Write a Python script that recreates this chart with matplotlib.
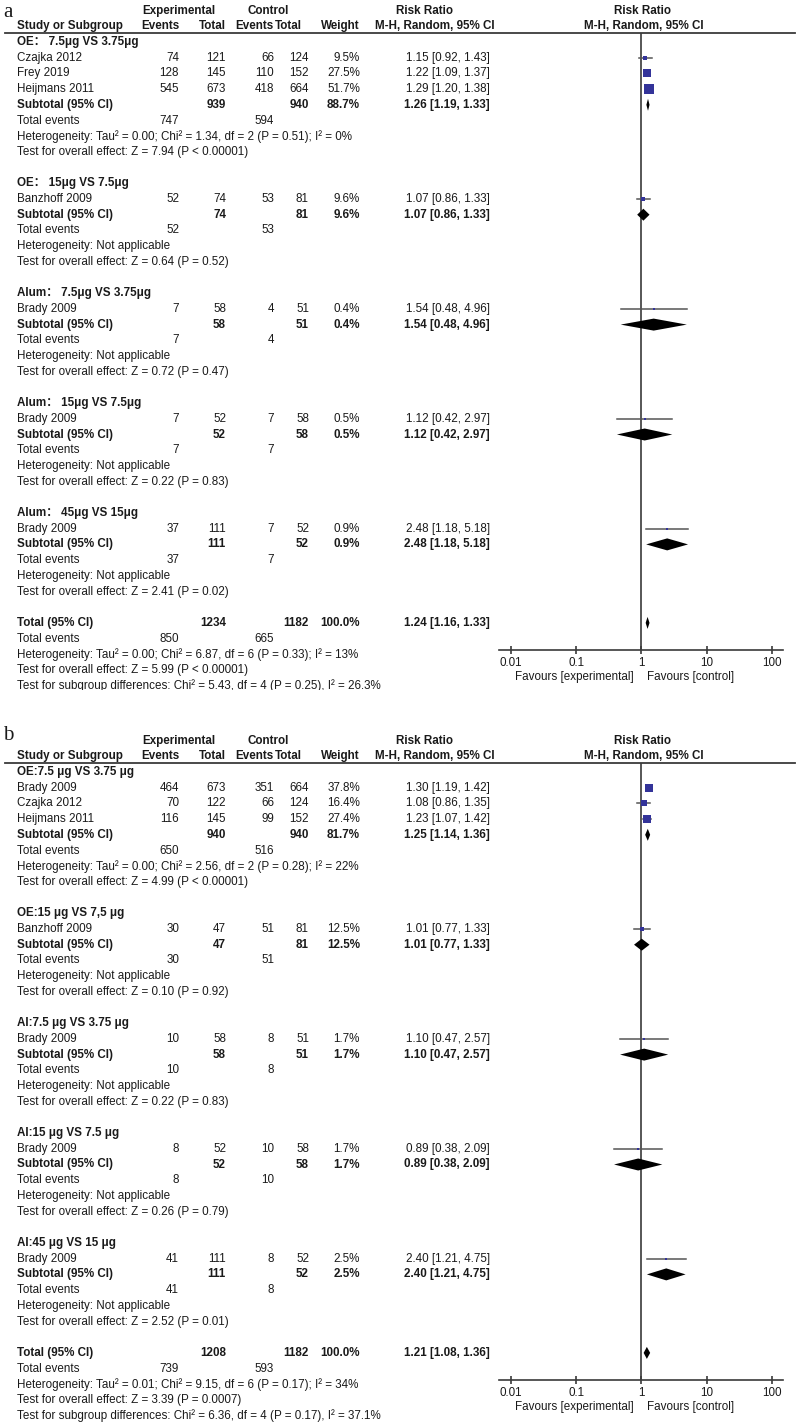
import numpy as np
import matplotlib
matplotlib.use("Agg")
import matplotlib.pyplot as plt
from matplotlib.patches import Rectangle
from matplotlib.ticker import NullLocator

plt.rcParams['font.family'] = ['Liberation Sans', 'Noto Sans CJK SC', 'DejaVu Sans']

# ---------------- panel a ----------------
a_titles = ["OE： 7.5μg VS 3.75μg", "OE： 15μg VS 7.5μg", "Alum： 7.5μg VS 3.75μg",
            "Alum： 15μg VS 7.5μg", "Alum： 45μg VS 15μg"]
a_studies = [["Czajka 2012", "Frey 2019", "Heijmans 2011"], ["Banzhoff 2009"],
             ["Brady 2009"], ["Brady 2009"], ["Brady 2009"]]
a_exp_ev = [[74, 128, 545], [52], [7], [7], [37]]
a_exp_n = [[121, 145, 673], [74], [58], [52], [111]]
a_ctl_ev = [[66, 110, 418], [53], [4], [7], [7]]
a_ctl_n = [[124, 152, 664], [81], [51], [58], [52]]
a_weight = [[9.5, 27.5, 51.7], [9.6], [0.4], [0.5], [0.9]]
a_rr = [[1.15, 1.22, 1.29], [1.07], [1.54], [1.12], [2.48]]
a_lo = [[0.92, 1.09, 1.20], [0.86], [0.48], [0.42], [1.18]]
a_hi = [[1.43, 1.37, 1.38], [1.33], [4.96], [2.97], [5.18]]
a_sub_w = [88.7, 9.6, 0.4, 0.5, 0.9]
a_sub_rr = [1.26, 1.07, 1.54, 1.12, 2.48]
a_sub_lo = [1.19, 0.86, 0.48, 0.42, 1.18]
a_sub_hi = [1.33, 1.33, 4.96, 2.97, 5.18]
a_het = ["Tau² = 0.00; Chi² = 1.34, df = 2 (P = 0.51); I² = 0%",
         "Not applicable", "Not applicable", "Not applicable", "Not applicable"]
a_z = ["Z = 7.94 (P < 0.00001)", "Z = 0.64 (P = 0.52)", "Z = 0.72 (P = 0.47)",
       "Z = 0.22 (P = 0.83)", "Z = 2.41 (P = 0.02)"]
a_total = [1.24, 1.16, 1.33]
a_total_het = "Tau² = 0.00; Chi² = 6.87, df = 6 (P = 0.33); I² = 13%"
a_total_z = "Z = 5.99 (P < 0.00001)"
a_subdiff = "Chi² = 5.43, df = 4 (P = 0.25), I² = 26.3%"

# ---------------- panel b ----------------
b_titles = ["OE:7.5 μg VS 3.75 μg", "OE:15 μg VS 7,5 μg", "Al:7.5 μg VS 3.75 μg",
            "Al:15 μg VS 7.5 μg", "Al:45 μg VS 15 μg"]
b_studies = [["Brady 2009", "Czajka 2012", "Heijmans 2011"], ["Banzhoff 2009"],
             ["Brady 2009"], ["Brady 2009"], ["Brady 2009"]]
b_exp_ev = [[464, 70, 116], [30], [10], [8], [41]]
b_exp_n = [[673, 122, 145], [47], [58], [52], [111]]
b_ctl_ev = [[351, 66, 99], [51], [8], [10], [8]]
b_ctl_n = [[664, 124, 152], [81], [51], [58], [52]]
b_weight = [[37.8, 16.4, 27.4], [12.5], [1.7], [1.7], [2.5]]
b_rr = [[1.30, 1.08, 1.23], [1.01], [1.10], [0.89], [2.40]]
b_lo = [[1.19, 0.86, 1.07], [0.77], [0.47], [0.38], [1.21]]
b_hi = [[1.42, 1.35, 1.42], [1.33], [2.57], [2.09], [4.75]]
b_sub_w = [81.7, 12.5, 1.7, 1.7, 2.5]
b_sub_rr = [1.25, 1.01, 1.10, 0.89, 2.40]
b_sub_lo = [1.14, 0.77, 0.47, 0.38, 1.21]
b_sub_hi = [1.36, 1.33, 2.57, 2.09, 4.75]
b_het = ["Tau² = 0.00; Chi² = 2.56, df = 2 (P = 0.28); I² = 22%",
         "Not applicable", "Not applicable", "Not applicable", "Not applicable"]
b_z = ["Z = 4.99 (P < 0.00001)", "Z = 0.10 (P = 0.92)", "Z = 0.22 (P = 0.83)",
       "Z = 0.26 (P = 0.79)", "Z = 2.52 (P = 0.01)"]
b_total = [1.21, 1.08, 1.36]
b_total_het = "Tau² = 0.01; Chi² = 9.15, df = 6 (P = 0.17); I² = 34%"
b_total_z = "Z = 3.39 (P = 0.0007)"
b_subdiff = "Chi² = 6.36, df = 4 (P = 0.17), I² = 37.1%"

ticks = [0.01, 0.1, 1, 10, 100]
tick_labels = ["0.01", "0.1", "1", "10", "100"]

W, H = 800, 1425
fig = plt.figure(figsize=(W / 100, H / 100), dpi=100)
bg = fig.add_axes([0, 0, 1, 1])
bg.set_xlim(0, W)
bg.set_ylim(H, 0)
bg.axis('off')

FS = 8.4
TXT = '#1a1a1a'
LINE = '#3a3a3a'
BLUE = '#333399'
PITCH, TOP = 15.7, 42
PLOT_L, PLOT_R = 499, 783
AX_Y = 650
HDR_Y = 32.5


def txt(x, y, s, ha='left', bold=False):
    bg.text(x, y, s, ha=ha, va='center', fontsize=FS, color=TXT,
            fontweight='bold' if bold else 'normal')


def ci(r, l, h):
    return f"{r:.2f} [{l:.2f}, {h:.2f}]"


def diamond(ax, y, r, l, h):
    ax.fill([l, r, h, r], [y, y - 6, y, y + 6], color='black', lw=0, zorder=4)


def panel(off, letter, letter_y, d):
    bg.text(3, off + letter_y, letter, ha='left', va='baseline', fontsize=15,
            family='Liberation Serif', color=TXT)
    # header
    txt(179, off + 11, "Experimental", 'center', True)
    txt(268, off + 11, "Control", 'center', True)
    txt(425, off + 11, "Risk Ratio", 'center', True)
    txt(642, off + 11, "Risk Ratio", 'center', True)
    txt(17, off + 26, "Study or Subgroup", bold=True)
    txt(180, off + 26, "Events", 'right', True)
    txt(226, off + 26, "Total", 'right', True)
    txt(274, off + 26, "Events", 'right', True)
    txt(302, off + 26, "Total", 'right', True)
    txt(360, off + 26, "Weight", 'right', True)
    txt(435, off + 26, "M-H, Random, 95% CI", 'center', True)
    txt(644, off + 26, "M-H, Random, 95% CI", 'center', True)
    bg.plot([5, 795], [off + HDR_Y, off + HDR_Y], color=LINE, lw=1.3)

    ax = fig.add_axes([PLOT_L / W, 1 - (off + AX_Y) / H, (PLOT_R - PLOT_L) / W,
                       (AX_Y - HDR_Y) / H])
    ax.set_facecolor('none')
    ax.set_xscale('log')
    ax.set_xlim(10 ** -2.184, 10 ** 2.17)
    ax.set_ylim(off + AX_Y, off + HDR_Y)
    for s in ['top', 'left', 'right']:
        ax.spines[s].set_visible(False)
    ax.spines['bottom'].set_color(LINE)
    ax.spines['bottom'].set_linewidth(1.2)
    ax.set_xticks(ticks)
    ax.set_xticklabels(tick_labels)
    ax.xaxis.set_minor_locator(NullLocator())
    ax.set_yticks([])
    ax.tick_params(axis='x', direction='inout', length=6, width=1.2, color=LINE,
                   labelsize=FS, labelcolor=TXT, pad=2)
    ax.axvline(1, color=LINE, lw=1.2, zorder=1)

    def ypos(i):
        return off + TOP + PITCH * i

    line = 0
    for g in range(len(d['titles'])):
        txt(17, ypos(line), d['titles'][g], bold=True)
        k = len(d['studies'][g])
        for j in range(k):
            y = ypos(line + 1 + j)
            txt(17, y, d['studies'][g][j])
            txt(179, y, str(d['exp_ev'][g][j]), 'right')
            txt(226, y, str(d['exp_n'][g][j]), 'right')
            txt(274, y, str(d['ctl_ev'][g][j]), 'right')
            txt(309, y, str(d['ctl_n'][g][j]), 'right')
            txt(360, y, f"{d['weight'][g][j]:.1f}%", 'right')
            txt(490, y, ci(d['rr'][g][j], d['lo'][g][j], d['hi'][g][j]), 'right')
            ax.plot([d['lo'][g][j], d['hi'][g][j]], [y, y], color='#555555', lw=1.1, zorder=2)
            side = max(1.39 * np.sqrt(d['weight'][g][j]), 2.0)
            ax.plot(d['rr'][g][j], y, 's', ms=side * 0.72, color=BLUE, mew=0, zorder=3)
        y = ypos(line + k + 1)
        txt(17, y, "Subtotal (95% CI)", bold=True)
        txt(226, y, str(sum(d['exp_n'][g])), 'right', True)
        txt(309, y, str(sum(d['ctl_n'][g])), 'right', True)
        txt(360, y, f"{d['sub_w'][g]:.1f}%", 'right', True)
        txt(490, y, ci(d['sub_rr'][g], d['sub_lo'][g], d['sub_hi'][g]), 'right', True)
        diamond(ax, y, d['sub_rr'][g], d['sub_lo'][g], d['sub_hi'][g])
        y = ypos(line + k + 2)
        txt(17, y, "Total events")
        txt(179, y, str(sum(d['exp_ev'][g])), 'right')
        txt(274, y, str(sum(d['ctl_ev'][g])), 'right')
        txt(17, ypos(line + k + 3), "Heterogeneity: " + d['het'][g])
        txt(17, ypos(line + k + 4), "Test for overall effect: " + d['z'][g])
        line += k + 6

    y = ypos(line)
    txt(17, y, "Total (95% CI)", bold=True)
    txt(226, y, str(sum(sum(v) for v in d['exp_n'])), 'right', True)
    txt(309, y, str(sum(sum(v) for v in d['ctl_n'])), 'right', True)
    txt(360, y, "100.0%", 'right', True)
    txt(490, y, ci(*d['total']), 'right', True)
    diamond(ax, y, *d['total'])
    y = ypos(line + 1)
    txt(17, y, "Total events")
    txt(179, y, str(sum(sum(v) for v in d['exp_ev'])), 'right')
    txt(274, y, str(sum(sum(v) for v in d['ctl_ev'])), 'right')
    txt(17, ypos(line + 2), "Heterogeneity: " + d['total_het'])
    txt(17, ypos(line + 3), "Test for overall effect: " + d['total_z'])
    txt(17, ypos(line + 4), "Test for subgroup differences: " + d['subdiff'])

    txt(574, off + 677, "Favours [experimental]", 'center')
    txt(691, off + 677, "Favours [control]", 'center')


panel_a = dict(titles=a_titles, studies=a_studies, exp_ev=a_exp_ev, exp_n=a_exp_n,
               ctl_ev=a_ctl_ev, ctl_n=a_ctl_n, weight=a_weight, rr=a_rr, lo=a_lo, hi=a_hi,
               sub_w=a_sub_w, sub_rr=a_sub_rr, sub_lo=a_sub_lo, sub_hi=a_sub_hi,
               het=a_het, z=a_z, total=a_total, total_het=a_total_het,
               total_z=a_total_z, subdiff=a_subdiff)
panel_b = dict(titles=b_titles, studies=b_studies, exp_ev=b_exp_ev, exp_n=b_exp_n,
               ctl_ev=b_ctl_ev, ctl_n=b_ctl_n, weight=b_weight, rr=b_rr, lo=b_lo, hi=b_hi,
               sub_w=b_sub_w, sub_rr=b_sub_rr, sub_lo=b_sub_lo, sub_hi=b_sub_hi,
               het=b_het, z=b_z, total=b_total, total_het=b_total_het,
               total_z=b_total_z, subdiff=b_subdiff)

panel(0, "a", 17, panel_a)
panel(730, "b", 10, panel_b)

# the source image cuts the last line of panel a
bg.add_patch(Rectangle((0, 689.5), W, 12, facecolor='white', edgecolor='none', zorder=10))

fig.savefig("out.png", dpi=100)
